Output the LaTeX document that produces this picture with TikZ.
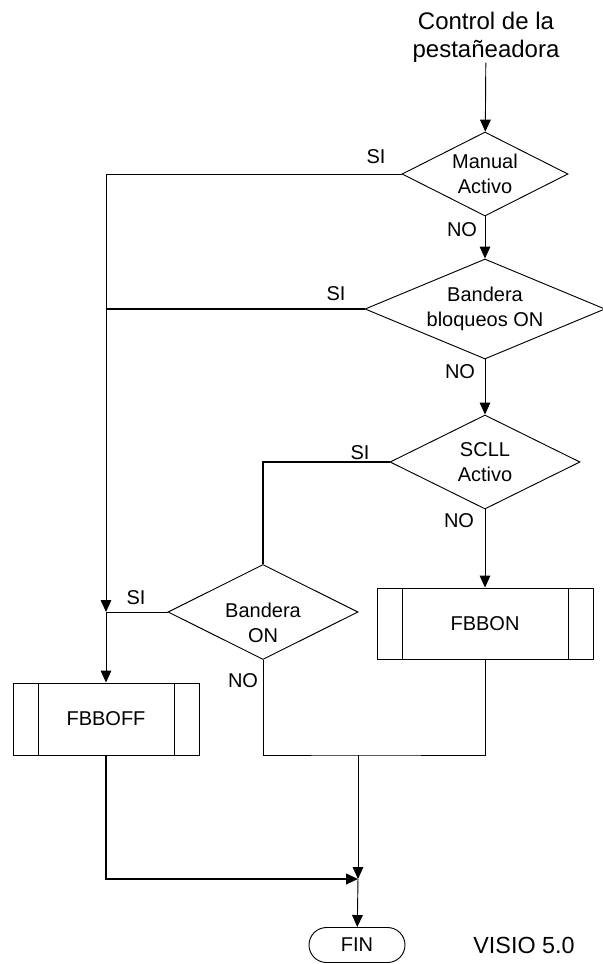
\documentclass[tikz,border=0pt]{standalone}
\usepackage{fontspec}
\setmainfont{Liberation Sans}
\usetikzlibrary{shapes.geometric,shapes.misc,arrows.meta}

\begin{document}
\begin{tikzpicture}[
    x=0.75pt, y=-0.75pt, line width=0.7pt,
    decision/.style={diamond, draw, inner sep=0pt, align=center, font=\fontsize{15}{18.5}\selectfont},
    process/.style={rectangle, draw, inner sep=0pt, font=\fontsize{15}{18}\selectfont,
        path picture={
            \draw ([xshift=18.75pt]path picture bounding box.north west) -- ([xshift=18.75pt]path picture bounding box.south west);
            \draw ([xshift=-18.75pt]path picture bounding box.north east) -- ([xshift=-18.75pt]path picture bounding box.south east);
        }},
    terminal/.style={rounded rectangle, draw, inner sep=0pt, minimum width=72pt, minimum height=26.25pt, font=\fontsize{15}{18}\selectfont},
    tag/.style={inner sep=0pt, font=\fontsize{15}{18}\selectfont},
    flow/.style={-{Triangle[length=9pt, width=8pt]}},
    bold/.style={line width=1.5pt}
]
    \useasboundingbox (0,0) rectangle (603,964);

    % Title
    \node[align=center, inner sep=0pt, font=\fontsize{18}{21}\selectfont] (title) at (486,37) {Control de la\\pestañeadora};

    % Decisions
    \node[decision, minimum width=124.5pt, minimum height=63pt, aspect=1.98] (manual) at (485,174) {Manual\\Activo};
    \node[decision, minimum width=180pt, minimum height=75pt, aspect=2.4] (bloqueos) at (485,309) {Bandera\\bloqueos ON};
    \node[decision, minimum width=142.5pt, minimum height=70.5pt, aspect=2.02] (scll) at (485,462) {SCLL\\Activo};
    \node[decision, minimum width=142.5pt, minimum height=71.25pt, aspect=2,
        label={[align=center, inner sep=0pt, font=\fontsize{15}{18.5}\selectfont, yshift=-8pt]center:Bandera\\ON}] (bandera) at (263,612) {};

    % Processes
    \node[process, minimum width=162pt, minimum height=53.25pt] (fbbon) at (485,623.5) {FBBON};
    \node[process, minimum width=139.5pt, minimum height=54pt] (fbboff) at (106,719) {FBBOFF};

    % End
    \node[terminal] (fin) at (357,945) {FIN};
    \node[inner sep=0pt, font=\fontsize{17.5}{20}\selectfont] (visio) at (524,945) {VISIO 5.0};

    % Junctions
    \coordinate (j1) at (106,612);
    \coordinate (m1) at (358,755);
    \coordinate (j2) at (358,879);

    % Main column
    \draw[flow] (title) -- (manual);
    \draw[flow] (manual) -- (bloqueos);
    \draw[flow] (bloqueos) -- (scll);
    \draw[flow] (scll) -- (fbbon);

    % SI branches
    \draw[flow] (manual.west) -| (j1);
    \draw[bold] (bloqueos.west) -- (bloqueos.west -| j1);
    \draw[bold] (scll.west) -| (bandera.north);
    \draw (bandera.west) -- (j1);
    \draw[flow] (j1) -- (fbboff);

    % Merge to FIN
    \draw (bandera.south) |- (m1) -| (fbbon.south);
    \draw[flow] (m1) -- (j2);
    \draw[flow, bold] (fbboff.south) |- (j2);
    \draw[flow] (j2) -- (fin);

    % Labels
    \node[tag] (si1) at (376,157) {SI};
    \node[tag] (si2) at (336,294) {SI};
    \node[tag] (si3) at (360,453) {SI};
    \node[tag] (si4) at (136,598) {SI};
    \node[tag] (no1) at (462,230) {NO};
    \node[tag] (no2) at (460,372) {NO};
    \node[tag] (no3) at (459,521) {NO};
    \node[tag] (no4) at (243,681) {NO};

\end{tikzpicture}
\end{document}
